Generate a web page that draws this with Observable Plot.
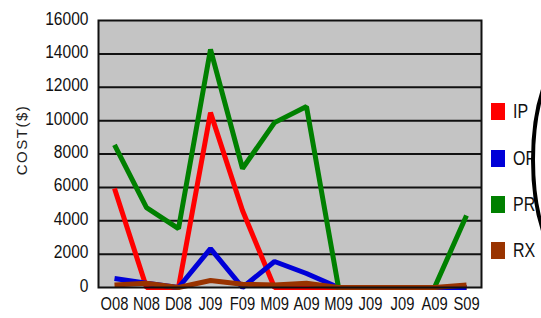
<!DOCTYPE html>
<html>
<head>
<meta charset="utf-8">
<script src="https://cdn.jsdelivr.net/npm/d3@7"></script>
<script src="https://cdn.jsdelivr.net/npm/@observablehq/plot@0.6"></script>
<style>
  html, body { margin: 0; padding: 0; background: #fff; }
  #wrap { position: relative; width: 541px; height: 318px; overflow: hidden; font-family: "Liberation Sans", Arial, sans-serif; }
  #chart { position: absolute; left: 0; top: 0; }
  .leg { position: absolute; left: 491px; height: 17px; }
  .leg .sw { position: absolute; left: 0; top: 0; width: 14px; height: 17px; }
  .leg .lb { position: absolute; left: 22px; top: -1px; font-size: 20px; color: #111; line-height: 19px; white-space: nowrap; transform: scaleX(0.8); transform-origin: left center; }
  #arc { position: absolute; left: 0; top: 0; }
</style>
</head>
<body>
<div id="wrap">
  <div id="chart"></div>
  <div id="legend"></div>
  <svg id="arc" width="541" height="318"></svg>
</div>
<script>
const months = ["O08","N08","D08","J09","F09","M09","A09","M09","J09","J09","A09","S09"];
const seriesNames = ["IP","OP","PR","RX"];
const seriesColors = ["#ff0000","#0000d8","#008000","#993300"];
const IP = [5930, 0, 0, 10480, 4610, 0, 0, 0, 0, 0, 0, 0];
const OP = [540, 250, 0, 2330, 0, 1560, 840, 0, 0, 0, 0, 0];
const PR = [8550, 4790, 3530, 14270, 7130, 9880, 10840, 0, 0, 0, 0, 4310];
const RX = [150, 250, 0, 420, 200, 150, 250, 0, 0, 0, 0, 150];
const yTicks = [0, 2000, 4000, 6000, 8000, 10000, 12000, 14000, 16000];
const gridValues = [2000, 4000, 6000, 8000, 10000, 12000, 14000];

const seriesValues = [IP, OP, PR, RX];
const rows = [];
seriesNames.forEach((name, s) => {
  seriesValues[s].forEach((v, i) => rows.push({series: name, i, value: v}));
});

const font = '"Liberation Sans", Arial, sans-serif';

const chart = Plot.plot({
  width: 541,
  height: 318,
  marginLeft: 98,
  marginRight: 60,
  marginTop: 20,
  marginBottom: 31,
  style: {fontFamily: font, color: "#111", background: "transparent"},
  x: {type: "point", domain: d3.range(months.length), padding: 0.467, axis: null, label: null},
  y: {domain: [0, 16000], axis: null, label: null},
  color: {domain: seriesNames, range: seriesColors},
  marks: [
    Plot.frame({fill: "#c4c4c4"}),
    Plot.ruleY(gridValues, {stroke: "#111", strokeWidth: 2}),
    ...seriesNames.map(name => Plot.line(rows.filter(d => d.series === name), {
      x: "i", y: "value", stroke: "series", strokeWidth: 5, strokeLinejoin: "miter", strokeLinecap: "butt"
    })),
    Plot.frame({stroke: "#111", strokeWidth: 2}),
    Plot.axisY(yTicks, {tickSize: 0, tickPadding: 10, fontSize: 19, dy: -2, label: null, tickFormat: d => String(d)}),
    Plot.axisX(d3.range(months.length), {tickSize: 0, tickPadding: 10, fontSize: 18, label: null, tickFormat: i => months[i]}),
    Plot.text(["COST($)"], {frameAnchor: "left", textAnchor: "middle", dx: -76, dy: -14, rotate: -90, fontSize: 15, text: d => d, fill: "#222"})
  ]
});
document.getElementById("chart").appendChild(chart);

// condense axis tick labels horizontally (narrow-font look)
function condense(sel, s) {
  chart.querySelectorAll(sel).forEach(t => {
    const tr = t.getAttribute("transform");
    if (tr) {
      t.setAttribute("transform", tr + ` scale(${s},1)`);
    } else {
      const x = +t.getAttribute("x") || 0, y = +t.getAttribute("y") || 0;
      t.setAttribute("transform", `translate(${x},${y}) scale(${s},1) translate(${-x},${-y})`);
    }
  });
}
condense('g[aria-label="y-axis tick label"] text', 0.82);
condense('g[aria-label="x-axis tick label"] text', 0.82);
chart.querySelectorAll('g[aria-label="text"] text').forEach(t => t.setAttribute("letter-spacing", "1.5"));

// legend
const legend = document.getElementById("legend");
const legTops = [103, 150, 196, 242];
seriesNames.forEach((name, k) => {
  const item = document.createElement("div");
  item.className = "leg";
  item.style.top = legTops[k] + "px";
  item.innerHTML = `<div class="sw" style="background:${seriesColors[k]}"></div><div class="lb">${name}</div>`;
  legend.appendChild(item);
});

// stray ellipse artifact over the legend's right edge
const arc = d3.select("#arc");
arc.append("ellipse")
  .attr("cx", 576).attr("cy", 160).attr("rx", 43).attr("ry", 110)
  .attr("fill", "#fff").attr("stroke", "#000").attr("stroke-width", 4);
</script>
</body>
</html>
